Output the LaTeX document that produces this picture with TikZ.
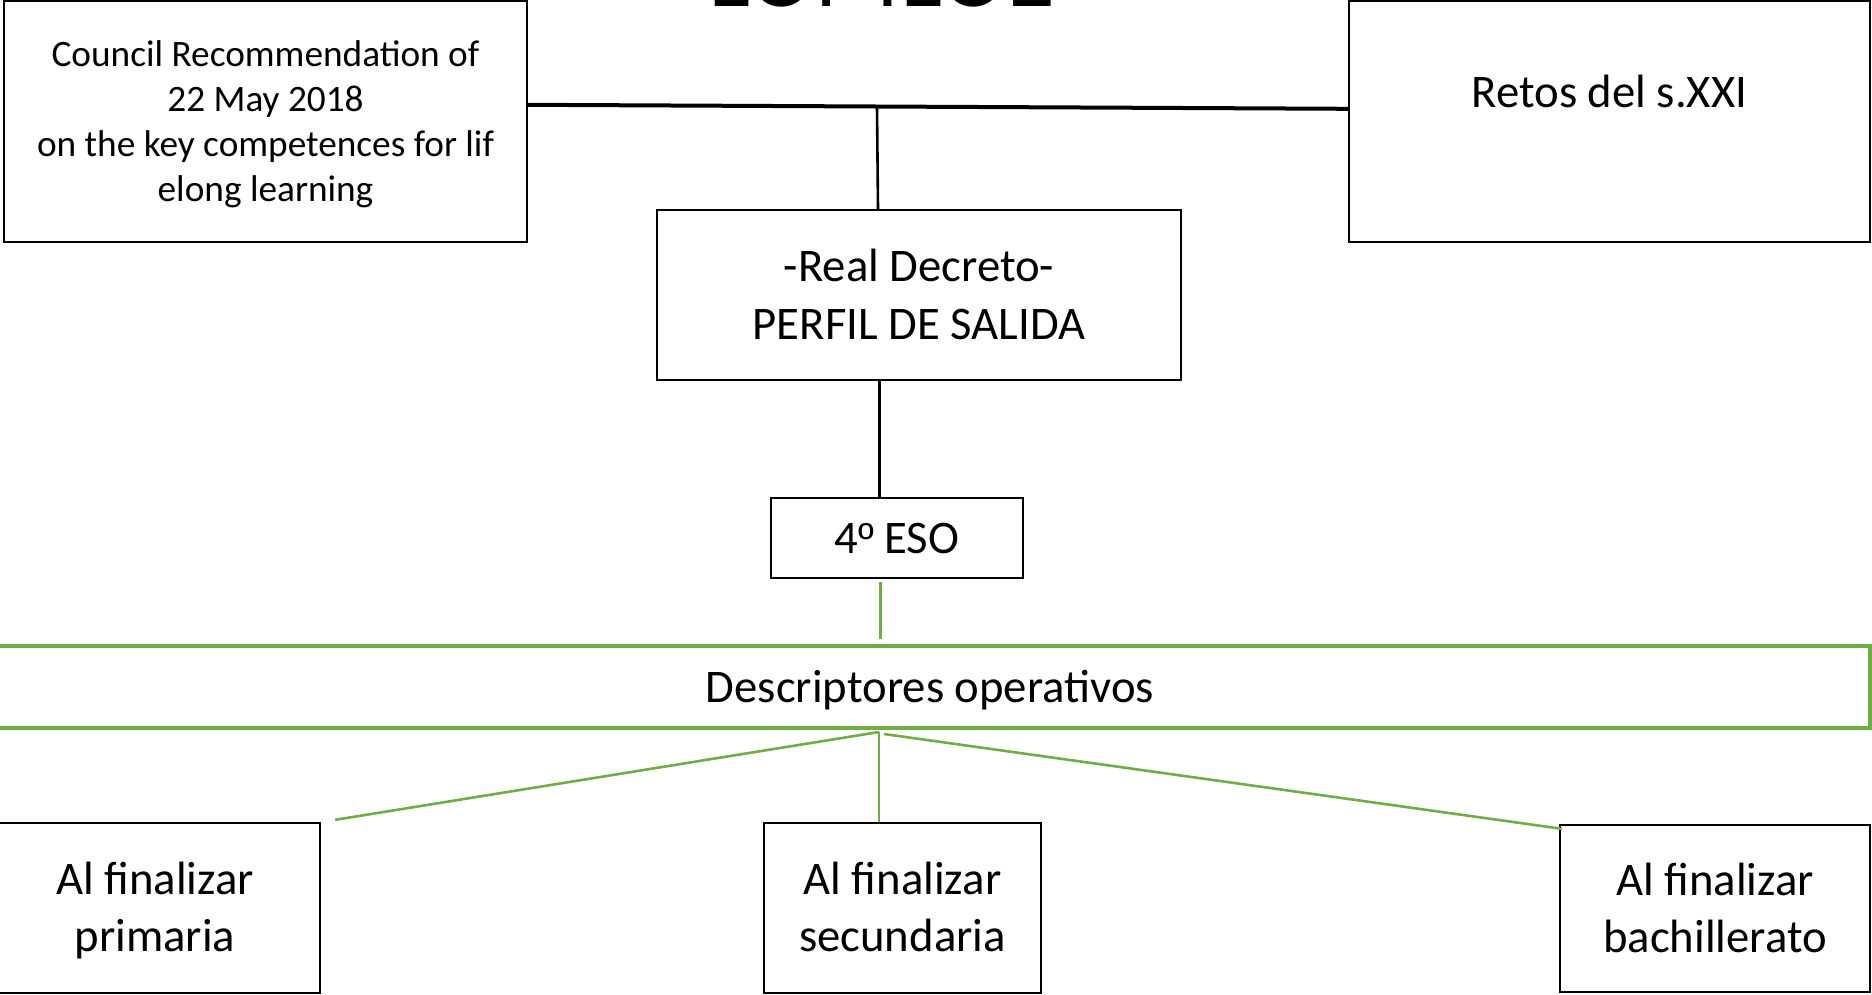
\documentclass[tikz,border=0pt]{standalone}
\usepackage{fontspec}
\setmainfont{Carlito}
\newfontfamily\ordfont{Liberation Sans}
\usetikzlibrary{calc}
\definecolor{offgreen}{HTML}{70AD47}
\newcommand\ms{\rule[-0.17em]{0pt}{1em}}
\begin{document}
\begin{tikzpicture}[x=1pt,y=-1pt,
  box/.style={draw=black, line width=2.4pt, fill=white, inner sep=0pt, align=center,
              font=\fontsize{46.7}{57}\selectfont},
  smallbox/.style={box, font=\fontsize{37.3}{45}\selectfont},
  gbox/.style={box, draw=offgreen, line width=3.5pt},
  blk/.style={draw=black, line width=3pt},
  grn/.style={draw=offgreen, line width=3pt}]
\useasboundingbox (0,0) rectangle (1872,994);

% title (cut off at the top)
\node[anchor=base, inner sep=0pt, font=\fontsize{100}{120}\selectfont] (title) at (882,6) {LOMLOE};

% top row
\node[smallbox, minimum width=523pt, minimum height=241pt] (council) at (265.5,121.5)
  {\ms Council Recommendation of\\\ms 22 May 2018\\\ms on the key competences for lif\\\ms elong learning};
\node[box, minimum width=521pt, minimum height=241pt] (retos) at (1609.5,121.5) {};
\node[anchor=base, inner sep=0pt, font=\fontsize{46.7}{57}\selectfont] (retostxt) at (1609.5,107) {Retos del s.XXI};

% middle
\node[box, minimum width=524pt, minimum height=170pt, font=\fontsize{46.7}{58}\selectfont] (decreto) at (919,295)
  {\ms -Real Decreto-\\\ms PERFIL DE SALIDA};
\node[box, minimum width=252pt, minimum height=80pt] (eso) at (897,538) {\ms 4{\ordfont\fontsize{43}{50}\selectfont º} ESO};

% descriptores
\node[gbox, minimum width=1880pt, minimum height=82pt] (desc) at (930,687) {\ms Descriptores operativos};

% bottom row
\node[box, minimum width=330pt, minimum height=170pt] (prim) at (155,908) {\ms Al finalizar\\\ms primaria};
\node[box, minimum width=277pt, minimum height=170pt] (secu) at (902.5,908) {\ms Al finalizar\\\ms secundaria};
\node[box, minimum width=310pt, minimum height=167pt] (bach) at (1715,908.5) {\ms Al finalizar\\\ms bachillerato};

% black connectors
\draw[draw=black, line width=4pt] ([yshift=-105pt]council.north east) -- ([yshift=-109pt]retos.north west);
\coordinate (j1) at (877,107);
\draw[draw=black, line width=2.6pt] (j1) -- ([xshift=-41pt]decreto.north);
\draw[blk] ([xshift=-40pt]decreto.south) -- ([xshift=-18pt]eso.north);

% green connectors
\draw[grn] ([xshift=-17pt,yshift=-3pt]eso.south) -- ([xshift=-50pt,yshift=5pt]desc.north);
\coordinate (fork) at (879,732);
\coordinate (forkr) at (884,734);
\draw[grn, line width=2.6pt] (fork) -- ([xshift=14pt,yshift=2pt]prim.north east);
\draw[grn, line width=2.6pt] (fork) -- (secu.north -| fork);
\draw[grn, line width=2.6pt] (forkr) -- ([xshift=3pt,yshift=-5pt]bach.north west);
\end{tikzpicture}
\end{document}
